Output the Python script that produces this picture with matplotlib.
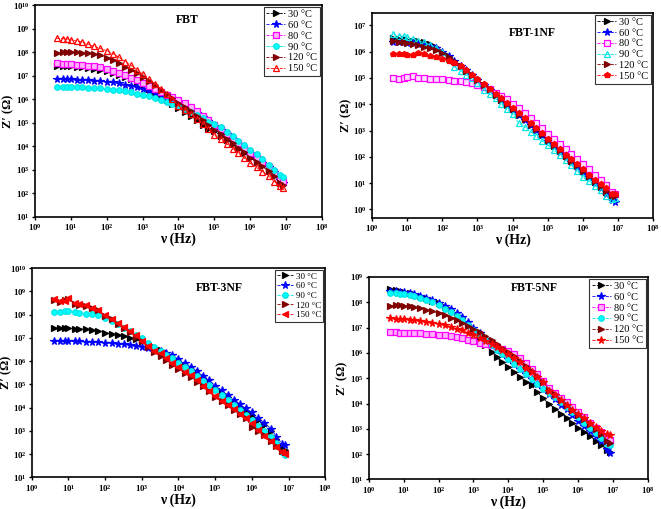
import numpy as np
import matplotlib
matplotlib.use('Agg')
from matplotlib import pyplot as plt
from matplotlib.ticker import FixedLocator, FuncFormatter, NullLocator

plt.rcParams['font.family'] = ['Liberation Serif', 'DejaVu Serif']
plt.rcParams['mathtext.fontset'] = 'custom'
plt.rcParams['mathtext.rm'] = 'Liberation Serif'
plt.rcParams['mathtext.bf'] = 'Liberation Serif:bold'

# Frequency sweep (Hz), shared by all samples
FREQ_HZ = [4, 6, 8, 10, 15, 20, 30, 45, 65, 100, 150, 220, 330, 470, 680,
           1e3, 1.5e3, 2.2e3, 3.3e3, 4.7e3, 6.8e3, 1e4, 1.5e4, 2.2e4, 3.3e4,
           4.7e4, 6.8e4, 1e5, 1.5e5, 2.2e5, 3.3e5, 4.7e5, 6.8e5, 1e6, 1.5e6,
           2.2e6, 3.3e6, 4.7e6, 6.8e6, 8e6]

# log10 Z' (Ohm)
# FBT
FBT_30 = [7.42, 7.41, 7.40, 7.39, 7.37, 7.35, 7.32, 7.28, 7.24, 7.18, 7.11, 7.04, 6.95, 6.86, 6.74, 6.60, 6.44, 6.28, 6.10, 5.95,
          5.80, 5.62, 5.45, 5.28, 5.10, 4.92, 4.75, 4.65, 4.45, 4.28, 4.08, 3.90, 3.72, 3.52, 3.34, 3.15, 2.95, 2.75, 2.50, 2.40]
FBT_60 = [6.85, 6.85, 6.84, 6.84, 6.83, 6.82, 6.81, 6.79, 6.77, 6.74, 6.71, 6.67, 6.62, 6.57, 6.51, 6.44, 6.36, 6.27, 6.17, 6.07,
          5.96, 5.84, 5.71, 5.56, 5.40, 5.23, 5.06, 4.88, 4.70, 4.50, 4.30, 4.10, 3.90, 3.70, 3.50, 3.30, 3.12, 2.90, 2.55, 2.45]
FBT_80 = [7.52, 7.50, 7.50, 7.49, 7.47, 7.45, 7.42, 7.39, 7.35, 7.28, 7.20, 7.12, 7.02, 6.92, 6.82, 6.70, 6.57, 6.43, 6.30, 6.18,
          6.08, 5.96, 5.82, 5.66, 5.48, 5.30, 5.12, 4.92, 4.72, 4.52, 4.32, 4.12, 3.92, 3.72, 3.52, 3.32, 3.12, 2.90, 2.58, 2.48]
FBT_90 = [6.52, 6.51, 6.51, 6.51, 6.50, 6.50, 6.49, 6.48, 6.46, 6.44, 6.41, 6.38, 6.34, 6.29, 6.24, 6.18, 6.12, 6.05, 5.97, 5.88,
          5.79, 5.70, 5.58, 5.46, 5.32, 5.18, 5.02, 4.95, 4.80, 4.62, 4.42, 4.24, 4.05, 3.85, 3.65, 3.45, 3.22, 3.00, 2.78, 2.68]
FBT_120 = [7.98, 8.00, 8.00, 8.00, 7.99, 7.97, 7.95, 7.91, 7.86, 7.76, 7.65, 7.53, 7.38, 7.24, 7.10, 6.95, 6.78, 6.60, 6.40, 6.24,
           6.06, 5.85, 5.66, 5.48, 5.28, 5.10, 4.92, 4.70, 4.50, 4.32, 4.12, 3.93, 3.74, 3.52, 3.32, 3.14, 2.93, 2.72, 2.45, 2.35]
FBT_150 = [8.58, 8.57, 8.56, 8.52, 8.47, 8.43, 8.34, 8.24, 8.16, 8.06, 7.93, 7.78, 7.58, 7.44, 7.26, 7.08, 6.85, 6.65, 6.42, 6.22,
           6.02, 5.72, 5.55, 5.36, 5.16, 4.95, 4.75, 4.47, 4.30, 4.10, 3.90, 3.70, 3.50, 3.28, 3.10, 2.92, 2.72, 2.50, 2.30, 2.22]

# FBT-1NF
NF1_30 = [6.50, 6.48, 6.47, 6.45, 6.42, 6.40, 6.35, 6.28, 6.18, 6.00, 5.82, 5.64, 5.45, 5.28, 5.10, 4.92, 4.72, 4.55, 4.35, 4.17,
          3.98, 3.80, 3.60, 3.42, 3.21, 3.03, 2.84, 2.62, 2.42, 2.23, 2.02, 1.84, 1.66, 1.45, 1.25, 1.05, 0.85, 0.65, 0.52, 0.50]
NF1_60 = [6.38, 6.36, 6.35, 6.34, 6.32, 6.30, 6.26, 6.20, 6.12, 5.98, 5.82, 5.65, 5.46, 5.29, 5.11, 4.92, 4.72, 4.54, 4.34, 4.16,
          3.97, 3.79, 3.59, 3.40, 3.20, 3.01, 2.82, 2.60, 2.40, 2.20, 2.00, 1.82, 1.62, 1.42, 1.22, 1.02, 0.82, 0.60, 0.35, 0.28]
NF1_80 = [5.00, 4.97, 4.99, 5.02, 5.08, 5.00, 4.99, 4.97, 4.96, 4.94, 4.92, 4.90, 4.87, 4.84, 4.80, 4.74, 4.66, 4.56, 4.44, 4.32,
          4.18, 4.02, 3.85, 3.67, 3.47, 3.28, 3.10, 2.88, 2.68, 2.48, 2.28, 2.10, 1.92, 1.72, 1.52, 1.32, 1.12, 0.92, 0.68, 0.60]
NF1_90 = [6.65, 6.60, 6.58, 6.56, 6.48, 6.42, 6.35, 6.26, 6.15, 5.98, 5.70, 5.42, 5.28, 5.11, 4.98, 4.82, 4.55, 4.38, 4.22, 4.00,
          3.80, 3.62, 3.28, 3.15, 2.95, 2.78, 2.60, 2.45, 2.25, 2.08, 1.88, 1.68, 1.48, 1.22, 1.08, 0.90, 0.75, 0.50, 0.40, 0.42]
NF1_120 = [6.42, 6.38, 6.36, 6.33, 6.30, 6.25, 6.18, 6.12, 6.05, 5.94, 5.80, 5.63, 5.44, 5.27, 5.10, 4.92, 4.73, 4.56, 4.36, 4.18,
           3.99, 3.81, 3.61, 3.43, 3.23, 3.05, 2.86, 2.64, 2.44, 2.25, 2.05, 1.86, 1.68, 1.48, 1.28, 1.08, 0.90, 0.72, 0.55, 0.52]
NF1_150 = [5.92, 5.92, 5.90, 5.88, 5.86, 5.94, 5.91, 5.85, 5.78, 5.72, 5.66, 5.58, 5.45, 5.29, 5.12, 4.94, 4.75, 4.58, 4.40, 4.22,
           4.04, 3.86, 3.66, 3.48, 3.28, 3.10, 2.90, 2.68, 2.48, 2.29, 2.08, 1.90, 1.72, 1.52, 1.32, 1.12, 0.95, 0.80, 0.60, 0.60]

# FBT-3NF
NF3_30 = [7.42, 7.42, 7.41, 7.41, 7.40, 7.39, 7.37, 7.34, 7.30, 7.22, 7.17, 7.12, 7.07, 7.02, 6.96, 6.86, 6.74, 6.62, 6.48, 6.34,
          6.18, 6.00, 5.82, 5.65, 5.46, 5.28, 5.08, 4.85, 4.65, 4.45, 4.25, 4.05, 3.87, 3.70, 3.45, 3.25, 3.00, 2.65, 2.35, 2.18]
NF3_60 = [6.87, 6.86, 6.86, 6.86, 6.85, 6.85, 6.84, 6.83, 6.82, 6.80, 6.78, 6.76, 6.73, 6.70, 6.67, 6.62, 6.56, 6.49, 6.42, 6.34,
          6.25, 6.08, 5.92, 5.75, 5.56, 5.38, 5.18, 4.95, 4.75, 4.55, 4.35, 4.15, 3.97, 3.80, 3.55, 3.35, 3.10, 2.75, 2.45, 2.40]
NF3_90 = [8.13, 8.13, 8.15, 8.15, 8.12, 8.08, 8.05, 8.05, 7.98, 7.86, 7.72, 7.58, 7.42, 7.28, 7.14, 6.98, 6.80, 6.62, 6.44, 6.28,
          6.12, 5.94, 5.75, 5.56, 5.36, 5.17, 4.98, 4.75, 4.55, 4.35, 4.12, 3.92, 3.70, 3.48, 3.22, 2.98, 2.72, 2.48, 2.10, 1.96]
NF3_120 = [8.62, 8.55, 8.62, 8.66, 8.48, 8.42, 8.36, 8.28, 8.22, 7.96, 7.80, 7.62, 7.42, 7.25, 7.06, 6.85, 6.60, 6.40, 6.22, 6.05,
           5.85, 5.68, 5.50, 5.32, 5.12, 4.92, 4.70, 4.48, 4.30, 4.12, 3.92, 3.72, 3.55, 3.18, 3.00, 2.82, 2.58, 2.35, 2.15, 2.08]
NF3_150 = [8.68, 8.60, 8.58, 8.70, 8.50, 8.45, 8.40, 8.30, 8.20, 7.98, 7.82, 7.65, 7.46, 7.30, 7.12, 6.88, 6.64, 6.46, 6.35, 6.12,
           5.92, 5.75, 5.55, 5.40, 5.18, 4.95, 4.72, 4.50, 4.30, 4.12, 3.95, 3.75, 3.55, 3.35, 3.05, 2.80, 2.55, 2.32, 2.10, 2.02]

# FBT-5NF
NF5_30 = [8.51, 8.48, 8.45, 8.42, 8.37, 8.32, 8.24, 8.16, 8.06, 7.95, 7.82, 7.68, 7.50, 7.38, 7.15, 6.85, 6.55, 6.30, 6.05, 5.82,
          5.64, 5.45, 5.25, 5.05, 4.85, 4.72, 4.45, 4.20, 3.97, 3.80, 3.60, 3.43, 3.25, 3.05, 2.88, 2.72, 2.52, 2.35, 2.18, 2.10]
NF5_60 = [8.45, 8.43, 8.42, 8.40, 8.36, 8.32, 8.25, 8.17, 8.08, 7.98, 7.86, 7.72, 7.56, 7.40, 7.22, 7.00, 6.78, 6.56, 6.35, 6.15,
          5.96, 5.75, 5.55, 5.36, 5.16, 4.98, 4.78, 4.56, 4.36, 4.16, 3.96, 3.78, 3.55, 3.32, 3.12, 2.92, 2.70, 2.52, 2.20, 2.05]
NF5_80 = [6.82, 6.81, 6.80, 6.80, 6.79, 6.78, 6.77, 6.76, 6.75, 6.72, 6.70, 6.67, 6.62, 6.57, 6.52, 6.46, 6.40, 6.36, 6.30, 6.24,
          6.16, 6.08, 5.96, 5.80, 5.58, 5.35, 5.15, 4.90, 4.62, 4.42, 4.22, 4.06, 3.85, 3.65, 3.45, 3.25, 3.05, 2.88, 2.62, 2.55]
NF5_90 = [8.38, 8.35, 8.33, 8.32, 8.28, 8.25, 8.18, 8.10, 8.00, 7.88, 7.75, 7.60, 7.44, 7.28, 7.10, 6.90, 6.70, 6.50, 6.30, 6.12,
          5.94, 5.75, 5.56, 5.38, 5.18, 4.98, 4.78, 4.58, 4.42, 4.25, 4.05, 3.88, 3.68, 3.48, 3.22, 3.02, 2.82, 2.65, 2.42, 2.38]
NF5_120 = [7.85, 7.88, 7.88, 7.87, 7.85, 7.80, 7.76, 7.70, 7.64, 7.58, 7.48, 7.38, 7.28, 7.16, 7.06, 6.94, 6.82, 6.68, 6.50, 6.35,
           6.20, 6.05, 5.88, 5.68, 5.48, 5.28, 5.08, 4.85, 4.55, 4.36, 4.15, 3.96, 3.76, 3.55, 3.38, 3.20, 3.00, 2.80, 2.50, 2.45]
NF5_150 = [7.38, 7.35, 7.34, 7.33, 7.30, 7.28, 7.25, 7.22, 7.19, 7.14, 7.09, 7.03, 6.96, 6.89, 6.80, 6.70, 6.60, 6.48, 6.36, 6.24,
           6.10, 5.96, 5.80, 5.62, 5.42, 5.24, 5.06, 4.86, 4.50, 4.34, 4.14, 3.96, 3.76, 3.58, 3.42, 3.24, 3.08, 2.92, 2.78, 2.75]

# line colour, marker, marker face, marker edge
STYLE = {
    '30':  ('#000000', '>', '#000000', '#000000'),
    '60':  ('#0000ff', '*', '#0000ff', '#0000ff'),
    '80':  ('#ff00ff', 's', '#ffb3ff', '#ff00ff'),
    '90':  ('#00e5e5', 'o', '#00ffff', '#00e5e5'),
    '120': ('#800000', '>', '#800000', '#800000'),
    '150': ('#ff0000', '^', 'none', '#ff0000'),
}


def fmt_pow(v, pos):
    return r'$\mathbf{10^{%d}}$' % int(round(np.log10(v)))


def panel(fig, rect, series, title, title_xy, ylims, yexp, ylab_x, legend_fs=7.5):
    ax = fig.add_axes(rect)
    freq = np.array(FREQ_HZ)
    for temp, logz, overrides in series:
        col, mk, mfc, mec = STYLE[temp]
        mk = overrides.get('marker', mk)
        mfc = overrides.get('mfc', mfc)
        ms = 5.5 if mk == '*' else 4
        ax.plot(freq, 10**np.array(logz), linestyle='--', lw=0.6, color=col,
                marker=mk, ms=ms, mfc=mfc, mec=mec, mew=0.9,
                label=f'{temp} \u00b0C')
    ax.set_xscale('log')
    ax.set_yscale('log')
    ax.set_xlim(1, 1e8)
    ax.set_ylim(*ylims)
    ax.xaxis.set_major_locator(FixedLocator([10.0**k for k in range(0, 9)]))
    ax.yaxis.set_major_locator(FixedLocator([10.0**k for k in yexp]))
    ax.xaxis.set_minor_locator(NullLocator())
    ax.yaxis.set_minor_locator(NullLocator())
    ax.xaxis.set_major_formatter(FuncFormatter(fmt_pow))
    ax.yaxis.set_major_formatter(FuncFormatter(fmt_pow))
    ax.tick_params(labelsize=6.3, length=2.5, width=1, pad=1.2)
    for s in ax.spines.values():
        s.set_linewidth(1.2)
    ax.set_xlabel('\u03bd (Hz)', fontsize=10, fontweight='bold', labelpad=0)
    ax.set_ylabel("Z\u2032 (\u03a9)", fontsize=9, fontweight='bold')
    ax.yaxis.set_label_coords(ylab_x, 0.5)
    ax.text(title_xy[0], title_xy[1], title, transform=ax.transAxes,
            fontsize=8.5, fontweight='bold', ha='center', va='center')
    leg = ax.legend(loc='upper right', fontsize=legend_fs, frameon=True,
                    fancybox=False, edgecolor='black', borderpad=0.25,
                    labelspacing=0.15, handlelength=1.8, handletextpad=0.3,
                    borderaxespad=0.2)
    leg.get_frame().set_linewidth(0.8)
    return ax


def main():
    fig = plt.figure(figsize=(6.61, 5.09), dpi=100)

    panel(fig, [0.053, 0.574, 0.434, 0.416],
          [('30', FBT_30, {}), ('60', FBT_60, {}), ('80', FBT_80, {}),
           ('90', FBT_90, {}), ('120', FBT_120, {}), ('150', FBT_150, {})],
          'FBT', (0.53, 0.93), (1e1, 1e10), range(1, 11), -0.072)

    panel(fig, [0.563, 0.572, 0.425, 0.403],
          [('30', NF1_30, {}), ('60', NF1_60, {}), ('80', NF1_80, {'mfc': '#ffe0ff'}),
           ('90', NF1_90, {'marker': '^', 'mfc': 'none'}), ('120', NF1_120, {}),
           ('150', NF1_150, {'marker': 'p', 'mfc': '#ff0000'})],
          'FBT-1NF', (0.57, 0.90), (0.48, 3e7), range(0, 8), -0.072)

    panel(fig, [0.048, 0.062, 0.444, 0.411],
          [('30', NF3_30, {}), ('60', NF3_60, {}), ('90', NF3_90, {}),
           ('120', NF3_120, {}), ('150', NF3_150, {'marker': '<', 'mfc': '#ff0000'})],
          'FBT-3NF', (0.64, 0.905), (1e1, 1e10), range(1, 11), -0.066, legend_fs=6.5)

    panel(fig, [0.558, 0.058, 0.422, 0.398],
          [('30', NF5_30, {}), ('60', NF5_60, {}), ('80', NF5_80, {}),
           ('90', NF5_90, {}), ('120', NF5_120, {}),
           ('150', NF5_150, {'marker': '*', 'mfc': '#ff0000'})],
          'FBT-5NF', (0.595, 0.946), (1e1, 1e9), range(1, 10), -0.074)

    fig.savefig('out.png', dpi=100)


if __name__ == '__main__':
    main()
